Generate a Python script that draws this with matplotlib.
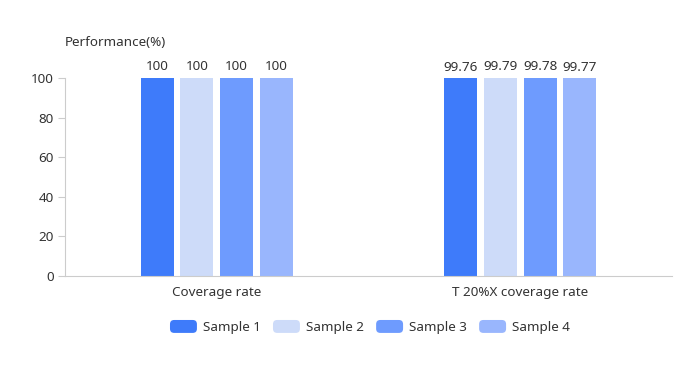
import matplotlib.pyplot as plt
import numpy as np
from matplotlib.patches import Patch, FancyBboxPatch
from matplotlib.legend_handler import HandlerPatch

plt.rcParams['font.family'] = ['Noto Sans', 'DejaVu Sans']

categories = ["Coverage rate", "T 20%X coverage rate"]
series_names = ["Sample 1", "Sample 2", "Sample 3", "Sample 4"]
values = [
    [100, 99.76],
    [100, 99.79],
    [100, 99.78],
    [100, 99.77],
]
labels = [
    ["100", "99.76"],
    ["100", "99.79"],
    ["100", "99.78"],
    ["100", "99.77"],
]
colors = ["#3E7BFA", "#CDDBF9", "#6E9BFE", "#99B6FD"]
FS = 9.7

fig = plt.figure(figsize=(6.92, 3.65), dpi=100)
ax = fig.add_axes([65/692, 1-276/365, (672-65)/692, (276-78)/365])

x = np.arange(len(categories))
width = 0.1087
step = 0.1302
for i, (name, vals) in enumerate(zip(series_names, values)):
    pos = x + (i - 1.5) * step
    bars = ax.bar(pos, vals, width=width, color=colors[i], label=name)
    for b, lab in zip(bars, labels[i]):
        ax.text(b.get_x() + b.get_width()/2, b.get_height() + 2.5, lab,
                ha='center', va='bottom', fontsize=FS, color='#333333')

ax.set_xlim(-0.5, 1.5)
ax.set_ylim(0, 100)
ax.set_yticks([0, 20, 40, 60, 80, 100])
ax.set_xticks(x)
ax.set_xticklabels(categories)
ax.tick_params(axis='y', length=5, color='#cccccc', labelcolor='#333333', labelsize=FS, pad=3)
ax.tick_params(axis='x', length=0, labelcolor='#333333', labelsize=FS, pad=7)
for s in ['top', 'right']:
    ax.spines[s].set_visible(False)
ax.spines['left'].set_color('#cccccc')
ax.spines['bottom'].set_color('#cccccc')

fig.text(115/692, 1-42/365, "Performance(%)", ha='center', va='center', fontsize=FS, color='#333333')


class RoundHandler(HandlerPatch):
    def create_artists(self, legend, orig_handle, xdescent, ydescent, width, height, fontsize, trans):
        p = FancyBboxPatch((-xdescent, -ydescent), width, height,
                           boxstyle="round,pad=0,rounding_size=3",
                           facecolor=orig_handle.get_facecolor(), edgecolor='none',
                           transform=trans)
        return [p]


handles = [Patch(facecolor=c, edgecolor='none', label=n) for c, n in zip(colors, series_names)]
fig.legend(handles=handles, loc='center', bbox_to_anchor=(370/692, 1-327/365), ncol=4,
           frameon=False, fontsize=FS, handlelength=2.0, handleheight=1.1,
           handletextpad=0.45, columnspacing=0.9, labelcolor='#333333',
           handler_map={Patch: RoundHandler()})

fig.savefig("out.png", dpi=100)
